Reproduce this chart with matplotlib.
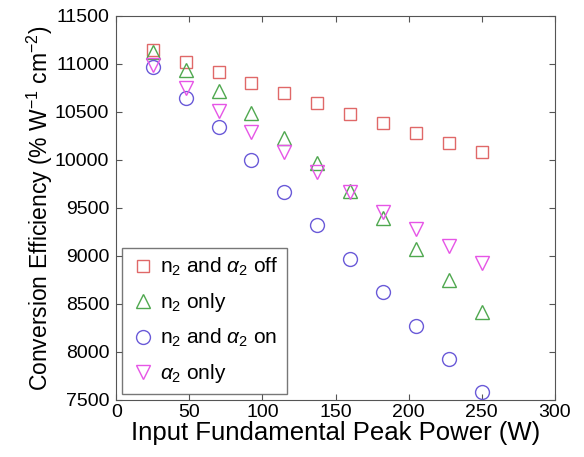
import numpy as np
import matplotlib
matplotlib.use('Agg')
import matplotlib.pyplot as plt

plt.rcParams['font.family'] = ['Liberation Sans', 'DejaVu Sans']
plt.rcParams['mathtext.fontset'] = 'custom'
plt.rcParams['mathtext.rm'] = 'Liberation Sans'
plt.rcParams['mathtext.it'] = 'Liberation Sans:italic'

power = [25, 47.5, 70, 92.5, 115, 137.5, 160, 182.5, 205, 227.5, 250]
both_off = [11150, 11020, 10920, 10800, 10700, 10590, 10480, 10380, 10280, 10180, 10080]
n2_only = [11130, 10940, 10720, 10490, 10230, 9970, 9680, 9390, 9070, 8750, 8420]
both_on = [10970, 10650, 10340, 10000, 9670, 9320, 8970, 8620, 8270, 7925, 7585]
a2_only = [10990, 10750, 10510, 10290, 10080, 9870, 9670, 9460, 9280, 9100, 8925]

fig = plt.figure(figsize=(5.84, 4.57), dpi=100)
ax = fig.add_axes([0.199, 0.125, 0.751, 0.84])

ax.plot(power, both_off, 's', ms=9, mfc='none', mec='#e06868', mew=1.0, label=r'n$_2$ and $\alpha_2$ off')
ax.plot(power, n2_only, '^', ms=10, mfc='none', mec='#4fa84f', mew=1.0, label=r'n$_2$ only')
ax.plot(power, both_on, 'o', ms=10, mfc='none', mec='#6a5ad8', mew=1.0, label=r'n$_2$ and $\alpha_2$ on')
ax.plot(power, a2_only, 'v', ms=10, mfc='none', mec='#e655e6', mew=1.0, label=r'$\alpha_2$ only')

ax.set_xlim(0, 300)
ax.set_ylim(7500, 11500)
ax.set_xticks(np.arange(0, 301, 50))
ax.set_yticks(np.arange(7500, 11501, 500))
ax.tick_params(direction='in', top=True, right=True, labelsize=14, length=4, color='#555555')
ax.tick_params(axis='x', pad=3)
ax.tick_params(axis='y', pad=5)
for s in ax.spines.values():
    s.set_color('#555555')

ax.set_xlabel('Input Fundamental Peak Power (W)', fontsize=18.5, labelpad=0)
ax.set_ylabel(r'Conversion Efficiency (% W$^{-1}$ cm$^{-2}$)', fontsize=16.5, labelpad=0)

leg = ax.legend(loc='lower left', fontsize=15, frameon=True, fancybox=False,
                handletextpad=0.2, handlelength=1.2, borderpad=0.4, labelspacing=0.62,
                borderaxespad=0.3)
leg.get_frame().set_edgecolor('#555555')
leg.get_frame().set_linewidth(1.0)

fig.savefig('out.png', dpi=100)
